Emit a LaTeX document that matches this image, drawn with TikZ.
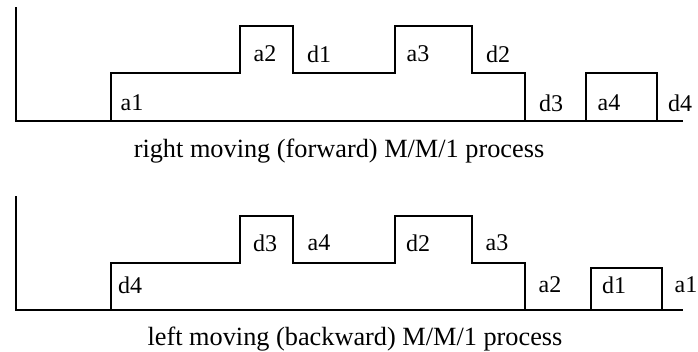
\documentclass[tikz,border=0pt]{standalone}
\usepackage{fontspec}
\setmainfont{Liberation Serif}
\begin{document}
\begin{tikzpicture}[x=1pt,y=-1pt,
  trace/.style={line width=2.4pt,line join=miter,line cap=rect},
  lbl/.style={inner sep=0pt,font=\fontsize{24}{28}\selectfont},
  captext/.style={inner sep=0pt,anchor=base,font=\fontsize{26.3}{31}\selectfont}]
\useasboundingbox (0,0) rectangle (698,352);
% top process
\draw[trace] (16,8) -- (16,121) -- (682,121);
\draw[trace] (111,121) -- (111,73) -- (240,73) -- (240,26) -- (293,26) -- (293,73)
  -- (395,73) -- (395,26) -- (472,26) -- (472,73) -- (525,73) -- (525,121);
\draw[trace] (586,121) -- (586,73) -- (657,73) -- (657,121);
\node[lbl] (ta1) at (132,103) {a1};
\node[lbl] (ta2) at (265,54) {a2};
\node[lbl] (td1) at (319,54) {d1};
\node[lbl] (ta3) at (418,54) {a3};
\node[lbl] (td2) at (498,54) {d2};
\node[lbl] (td3) at (551,103) {d3};
\node[lbl] (ta4) at (609,103) {a4};
\node[lbl] (td4) at (680,103) {d4};
\node[captext] (tcap) at (339,158) {right moving (forward) M/M/1 process};
% bottom process
\draw[trace] (16,197) -- (16,310) -- (682,310);
\draw[trace] (111,310) -- (111,263) -- (240,263) -- (240,216) -- (293,216) -- (293,263)
  -- (395,263) -- (395,216) -- (472,216) -- (472,263) -- (525,263) -- (525,310);
\draw[trace] (591,310) -- (591,268) -- (662,268) -- (662,310);
\node[lbl] (bd4) at (130,285) {d4};
\node[lbl] (bd3) at (265,243) {d3};
\node[lbl] (ba4) at (319,243) {a4};
\node[lbl] (bd2) at (418,243) {d2};
\node[lbl] (ba3) at (497,243) {a3};
\node[lbl] (ba2) at (550,285) {a2};
\node[lbl] (bd1) at (614,285) {d1};
\node[lbl] (ba1) at (686,285) {a1};
\node[captext] (bcap) at (355,345) {left moving (backward) M/M/1 process};
\end{tikzpicture}
\end{document}
